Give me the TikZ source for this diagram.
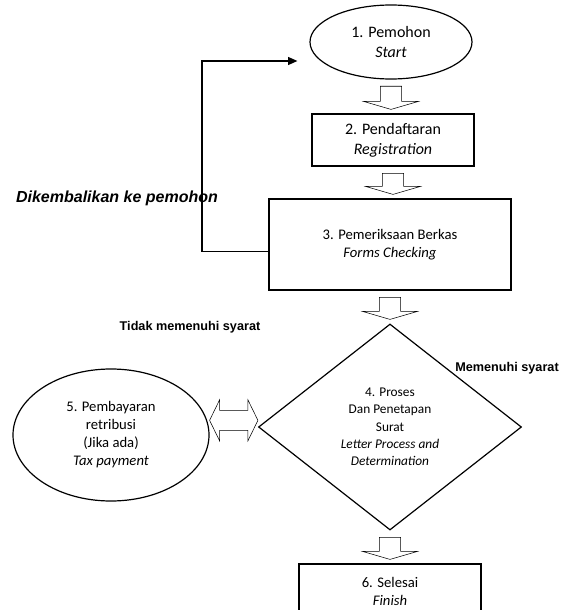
\documentclass[tikz,border=0pt]{standalone}
\usepackage{fontspec}
\setmainfont{Carlito}
\newfontfamily\labelfont{Liberation Sans}
\usetikzlibrary{arrows.meta, calc, shapes.geometric}

\tikzset{
  term/.style = {draw, ellipse, line width=0.9pt, inner sep=0pt, align=center},
  procbox/.style = {draw, rectangle, line width=0.9pt, inner sep=0pt, align=center},
  decision/.style = {draw, diamond, line width=0.9pt, inner sep=0pt, align=center},
  note/.style = {font=\labelfont\bfseries\fontsize{9.5}{11}\selectfont},
  % hollow block arrow pointing down
  blockdown/.style = {line width=0.8pt, to path={
    let \p1=(\tikztostart), \p2=(\tikztotarget) in
    (\x1-7.9pt,\y1-5pt) -- (\x1-7.9pt,\y2+9pt) -- (\x1-20.6pt,\y2+9pt) -- (\x1,\y2+3pt)
    -- (\x1+20.6pt,\y2+9pt) -- (\x1+7.9pt,\y2+9pt) -- (\x1+7.9pt,\y1-5pt) -- cycle}},
  % hollow block arrow with two heads
  blockboth/.style = {line width=0.8pt, to path={
    let \p1=(\tikztostart), \p2=(\tikztotarget) in
    (\x1,\y1) -- (\x1+7.5pt,\y1+15.4pt) -- (\x1+7.5pt,\y1+7.5pt) -- (\x2-7.5pt,\y1+7.5pt)
    -- (\x2-7.5pt,\y1+15.4pt) -- (\x2,\y1) -- (\x2-7.5pt,\y1-15.4pt) -- (\x2-7.5pt,\y1-7.5pt)
    -- (\x1+7.5pt,\y1-7.5pt) -- (\x1+7.5pt,\y1-15.4pt) -- cycle}},
  backline/.style = {line width=0.8pt, -{Triangle[length=7pt, width=6pt]}}
}

\begin{document}
\begin{tikzpicture}[x=0.75pt, y=0.75pt]
  \useasboundingbox (0,0) rectangle (563,-610);

  \node (start) [term, minimum width=121.5pt, minimum height=55.5pt,
    font=\fontsize{12}{15}\selectfont] at (391,-42) {1. Pemohon\\\textit{Start}};
  \node (reg) [procbox, minimum width=121.5pt, minimum height=39pt,
    font=\fontsize{12}{15}\selectfont] at (393,-140) {2. Pendaftaran\\\textit{Registration}};
  \node (check) [procbox, minimum width=181.5pt, minimum height=68.25pt,
    font=\fontsize{11}{13.5}\selectfont] at (390,-244.5) {3. Pemeriksaan Berkas\\\textit{Forms Checking}};
  \node (proc) [decision, minimum width=197.25pt, minimum height=154.5pt,
    font=\fontsize{10}{13}\selectfont] at (390,-427)
    {4. Proses\\Dan Penetapan\\Surat\\\textit{Letter Process and}\\\textit{Determination}};
  \node (pay) [term, minimum width=147pt, minimum height=99pt,
    font=\fontsize{11}{13.5}\selectfont] at (111,-435)
    {5. Pembayaran\\retribusi\\(Jika ada)\\\textit{Tax payment}};
  \node (fin) [procbox, minimum width=136.5pt, minimum height=40.5pt,
    font=\fontsize{11}{13.5}\selectfont] at (390,-591) {6. Selesai\\\textit{Finish}};

  \node (back) [font=\labelfont\bfseries\itshape\fontsize{12}{14}\selectfont] at (117,-198) {Dikembalikan ke pemohon};
  \node (no) [note] at (190,-327) {Tidak memenuhi syarat};
  \node (yes) [note] at (507,-368) {Memenuhi syarat};

  \coordinate (turn) at (202,-61);

  \draw (start.south) to[blockdown] (reg.north);
  \draw (reg.south) to[blockdown] (check.north);
  \draw (check.south) to[blockdown] (proc.north);
  \draw (proc.south) to[blockdown] (fin.north);
  \draw ([yshift=11pt]pay.east) to[blockboth] (proc.west);
  \draw [backline] ([yshift=-5pt]check.west) -| (turn) -- ([xshift=-9pt]start.west |- turn);
\end{tikzpicture}
\end{document}
